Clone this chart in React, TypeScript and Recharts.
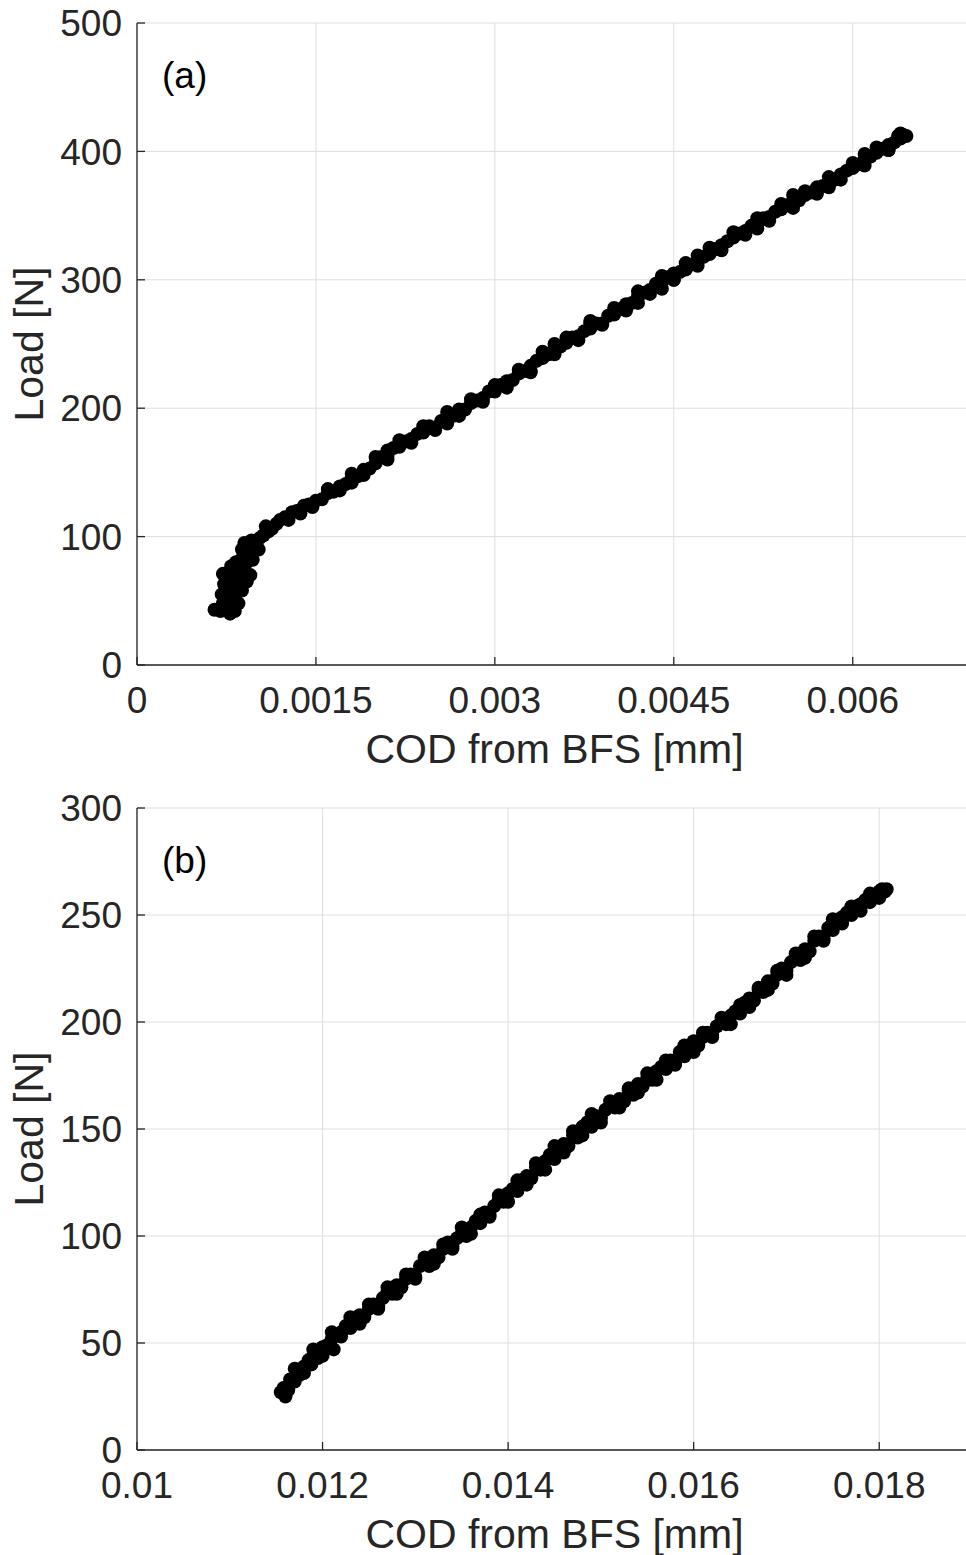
import { ScatterChart, Scatter, XAxis, YAxis, CartesianGrid } from 'recharts'

// panel (a) – COD [mm] vs load [N]
const codA = [
  0.00065, 0.0007, 0.00073, 0.00077, 0.0008, 0.00072, 0.00075, 0.00079, 0.00071, 0.00074,
  0.00078, 0.00082, 0.00073, 0.00076, 0.00072, 0.0008, 0.00084, 0.00087, 0.00082, 0.00079,
  0.00085, 0.00088, 0.0009, 0.00092, 0.00088, 0.00095, 0.00098, 0.00096, 0.001, 0.00103,
  0.00106, 0.0011, 0.00108, 0.00113, 0.00117, 0.0012, 0.00124, 0.00127, 0.0013, 0.00134,
  0.00137, 0.0014, 0.00144, 0.00147, 0.0015, 0.00155, 0.0016, 0.00165, 0.0017, 0.00175,
  0.0018, 0.0018, 0.00185, 0.0019, 0.00195, 0.002, 0.00205, 0.0021, 0.0021, 0.00215,
  0.0022, 0.00225, 0.0023, 0.00235, 0.0024, 0.00245, 0.0025, 0.00255, 0.0026, 0.0026,
  0.00265, 0.0027, 0.00275, 0.0028, 0.00285, 0.0029, 0.00295, 0.003, 0.00305, 0.0031,
  0.00315, 0.0032, 0.00325, 0.0033, 0.0033, 0.00335, 0.0034, 0.00345, 0.0035, 0.0035,
  0.00355, 0.0036, 0.00365, 0.0037, 0.00375, 0.0038, 0.0038, 0.00385, 0.0039, 0.00395,
  0.004, 0.00405, 0.0041, 0.00415, 0.0042, 0.0042, 0.00425, 0.0043, 0.00435, 0.0044,
  0.0044, 0.00445, 0.0045, 0.0045, 0.00455, 0.0046, 0.00465, 0.0047, 0.0047, 0.00475,
  0.0048, 0.00485, 0.0049, 0.00495, 0.005, 0.00505, 0.0051, 0.00515, 0.0052, 0.0052,
  0.00525, 0.0053, 0.00535, 0.0054, 0.00545, 0.0055, 0.0055, 0.00555, 0.0056, 0.00565,
  0.0057, 0.00575, 0.0058, 0.0058, 0.00585, 0.0059, 0.00595, 0.006, 0.00605, 0.0061,
  0.0061, 0.00615, 0.0062, 0.00625, 0.0063, 0.0063, 0.00635, 0.0064, 0.00638, 0.00642,
  0.00645,
  // early blob, extra spread
  0.00085, 0.00088, 0.00092, 0.00095, 0.00083, 0.0009, 0.00097, 0.00102, 0.00078, 0.00082,
  // second layer along the band
  0.0016, 0.0017, 0.0018, 0.0019, 0.002, 0.0021, 0.0022, 0.0023, 0.0024, 0.0025,
  0.0026, 0.0027, 0.0028, 0.0029, 0.003, 0.0031, 0.0032, 0.0033, 0.0034, 0.0035,
  0.0036, 0.0037, 0.0038, 0.0039, 0.004, 0.0041, 0.0042, 0.0043, 0.0044, 0.0045,
  0.0046, 0.0047, 0.0048, 0.0049, 0.005, 0.0051, 0.0052, 0.0053, 0.0054, 0.0055,
  0.0056, 0.0057, 0.0058, 0.0059, 0.006, 0.0061, 0.0062, 0.0063, 0.0064,
]
const loadA = [
  43, 42, 44, 43, 46, 48, 52, 50, 55, 58,
  56, 54, 63, 66, 71, 62, 64, 67, 72, 77,
  78, 83, 73, 80, 90, 88, 92, 97, 94, 99,
  101, 104, 108, 106, 110, 113, 115, 113, 119, 120,
  118, 124, 125, 123, 128, 129, 134, 135, 139, 141,
  146, 142, 147, 152, 153, 157, 162, 163, 167, 169,
  170, 174, 176, 180, 181, 186, 185, 190, 193, 188,
  194, 199, 199, 204, 206, 208, 213, 213, 218, 221,
  222, 227, 229, 233, 228, 237, 239, 242, 246, 250,
  248, 251, 255, 256, 260, 262, 268, 266, 266, 272,
  273, 277, 281, 282, 287, 282, 290, 292, 297, 298,
  293, 302, 305, 300, 306, 308, 312, 314, 319, 318,
  320, 324, 327, 330, 333, 336, 338, 342, 344, 340,
  348, 349, 353, 355, 358, 361, 366, 362, 366, 368,
  372, 373, 377, 372, 378, 382, 385, 387, 390, 393,
  398, 396, 399, 402, 405, 401, 407, 410, 412, 413,
  412,
  48, 58, 65, 70, 80, 95, 82, 90, 40, 42,
  137, 136, 149, 148, 162, 160, 175, 173, 186, 183,
  197, 194, 207, 205, 218, 216, 230, 229, 244, 242,
  255, 253, 266, 265, 278, 276, 291, 289, 303, 300,
  313, 311, 325, 323, 337, 335, 348, 346, 359, 356,
  369, 367, 380, 378, 391, 389, 403, 401, 414,
]

// panel (b)
const codB = [
  0.01155, 0.01158, 0.0116, 0.01163, 0.01165, 0.0117, 0.01172, 0.01175, 0.0118, 0.01185,
  0.01188, 0.0119, 0.01195, 0.012, 0.01205, 0.0121, 0.01212, 0.01215, 0.0122, 0.01225,
  0.0123, 0.01235, 0.0124, 0.01245, 0.0125, 0.01255, 0.0126, 0.01265, 0.0127, 0.01275,
  0.0128, 0.01285, 0.0129, 0.01295, 0.013, 0.01305, 0.0131, 0.01315, 0.0132, 0.01325,
  0.0133, 0.01335, 0.0134, 0.01345, 0.0135, 0.01355, 0.0136, 0.01365, 0.0137, 0.01375,
  0.0138, 0.01385, 0.0139, 0.01395, 0.014, 0.01405, 0.0141, 0.01415, 0.0142, 0.01425,
  0.0143, 0.01435, 0.0144, 0.01445, 0.0145, 0.01455, 0.0146, 0.01465, 0.0147, 0.01475,
  0.0148, 0.01485, 0.0149, 0.01495, 0.015, 0.01505, 0.0151, 0.01515, 0.0152, 0.01525,
  0.0153, 0.01535, 0.0154, 0.01545, 0.0155, 0.01555, 0.0156, 0.01565, 0.0157, 0.01575,
  0.0158, 0.01585, 0.0159, 0.01595, 0.016, 0.01605, 0.0161, 0.01615, 0.0162, 0.01625,
  0.0163, 0.01635, 0.0164, 0.01645, 0.0165, 0.01655, 0.0166, 0.01665, 0.0167, 0.01675,
  0.0168, 0.01685, 0.0169, 0.01695, 0.017, 0.01705, 0.0171, 0.01715, 0.0172, 0.01725,
  0.0173, 0.01735, 0.0174, 0.01745, 0.0175, 0.01755, 0.0176, 0.01765, 0.0177, 0.01775,
  0.0178, 0.01785, 0.0179, 0.01795, 0.018, 0.01803, 0.01806, 0.01808,
  // second layer along the band
  0.0116, 0.0117, 0.0118, 0.0119, 0.012, 0.0121, 0.0122, 0.0123, 0.0124, 0.0125,
  0.0126, 0.0127, 0.0128, 0.0129, 0.013, 0.0131, 0.0132, 0.0133, 0.0134, 0.0135,
  0.0136, 0.0137, 0.0138, 0.0139, 0.014, 0.0141, 0.0142, 0.0143, 0.0144, 0.0145,
  0.0146, 0.0147, 0.0148, 0.0149, 0.015, 0.0151, 0.0152, 0.0153, 0.0154, 0.0155,
  0.0156, 0.0157, 0.0158, 0.0159, 0.016, 0.0161, 0.0162, 0.0163, 0.0164, 0.0165,
  0.0166, 0.0167, 0.0168, 0.0169, 0.017, 0.0171, 0.0172, 0.0173, 0.0174, 0.0175,
  0.0176, 0.0177, 0.0178, 0.0179, 0.018,
]
const loadB = [
  27, 29, 25, 28, 33, 32, 36, 35, 39, 42,
  40, 44, 43, 48, 49, 52, 47, 54, 55, 58,
  57, 61, 63, 62, 66, 68, 67, 71, 74, 73,
  77, 76, 80, 82, 81, 86, 88, 86, 91, 90,
  94, 97, 95, 99, 101, 100, 104, 107, 106, 111,
  110, 114, 117, 116, 120, 122, 121, 126, 128, 127,
  132, 131, 135, 138, 136, 141, 143, 142, 147, 146,
  151, 153, 151, 156, 155, 159, 161, 160, 164, 163,
  168, 166, 171, 170, 174, 173, 177, 179, 178, 182,
  181, 186, 184, 188, 191, 189, 193, 195, 194, 198,
  200, 199, 203, 205, 204, 209, 211, 210, 215, 214,
  219, 218, 222, 225, 224, 228, 230, 229, 234, 233,
  238, 240, 239, 244, 243, 247, 249, 251, 250, 254,
  255, 257, 256, 259, 261, 262, 261, 262,
  27, 38, 36, 47, 44, 55, 53, 62, 59, 68,
  66, 76, 73, 82, 80, 90, 87, 96, 94, 104,
  101, 110, 109, 119, 116, 126, 124, 134, 131, 142,
  139, 149, 147, 157, 153, 163, 160, 169, 167, 176,
  173, 182, 180, 189, 186, 195, 193, 202, 199, 208,
  207, 216, 215, 224, 222, 232, 230, 240, 238, 248,
  246, 254, 252, 260, 258,
]

const xTicksA = [0, 0.0015, 0.003, 0.0045, 0.006]
const yTicksA = [0, 100, 200, 300, 400, 500]
const xTicksB = [0.01, 0.012, 0.014, 0.016, 0.018]
const yTicksB = [0, 50, 100, 150, 200, 250, 300]

const INK = '#262626'
const GRID = '#dedede'

const dot = (p: any) => <circle cx={p.cx} cy={p.cy} r={7} fill="#000" />

function Panel({ cod, load, xDomain, xTicks, yDomain, yTicks, tag }: any) {
  const data = cod.map((c: number, i: number) => ({ cod: c, load: load[i] }))
  return (
    <div style={{ position: 'relative', width: 972, height: 785 }}>
      <ScatterChart width={972} height={785} margin={{ top: 23, right: 0, bottom: 0, left: 0 }}>
        <CartesianGrid stroke={GRID} strokeWidth={1} />
        <XAxis
          xAxisId="top"
          orientation="top"
          type="number"
          dataKey="cod"
          domain={xDomain}
          allowDataOverflow
          ticks={xTicks}
          interval={0}
          height={0}
          tick={false}
          tickSize={-8}
          stroke={INK}
          strokeWidth={1.3}
        />
        <XAxis
          type="number"
          dataKey="cod"
          domain={xDomain}
          allowDataOverflow
          ticks={xTicks}
          interval={0}
          height={120}
          tickSize={-8}
          tickMargin={30}
          stroke={INK}
          strokeWidth={1.3}
          tick={{ fill: INK, fontSize: 37 }}
          label={{ value: 'COD from BFS [mm]', position: 'insideBottom', offset: 22, fill: INK, fontSize: 41 }}
        />
        <YAxis
          type="number"
          dataKey="load"
          domain={yDomain}
          allowDataOverflow
          ticks={yTicks}
          interval={0}
          width={137}
          tickSize={-8}
          tickMargin={23}
          stroke={INK}
          strokeWidth={1.3}
          tick={{ fill: INK, fontSize: 37 }}
          label={{
            value: 'Load [N]',
            angle: -90,
            position: 'insideLeft',
            offset: 28,
            fill: INK,
            fontSize: 41,
            style: { textAnchor: 'middle' },
          }}
        />
        <Scatter data={data} shape={dot} isAnimationActive={false} />
      </ScatterChart>
      <svg width={300} height={120} style={{ position: 'absolute', left: 0, top: 0 }}>
        <text x={162} y={88} fontSize={37} fill="#000">
          {tag}
        </text>
      </svg>
    </div>
  )
}

export default function App() {
  return (
    <div
      style={{
        position: 'absolute',
        left: 0,
        top: 0,
        width: 966,
        height: 1555,
        overflow: 'hidden',
        background: '#fff',
        fontFamily: '"Liberation Sans", Arial, Helvetica, sans-serif',
      }}
    >
      <Panel cod={codA} load={loadA} xDomain={[0, 0.007]} xTicks={xTicksA} yDomain={[0, 500]} yTicks={yTicksA} tag="(a)" />
      <Panel cod={codB} load={loadB} xDomain={[0.01, 0.019]} xTicks={xTicksB} yDomain={[0, 300]} yTicks={yTicksB} tag="(b)" />
    </div>
  )
}
